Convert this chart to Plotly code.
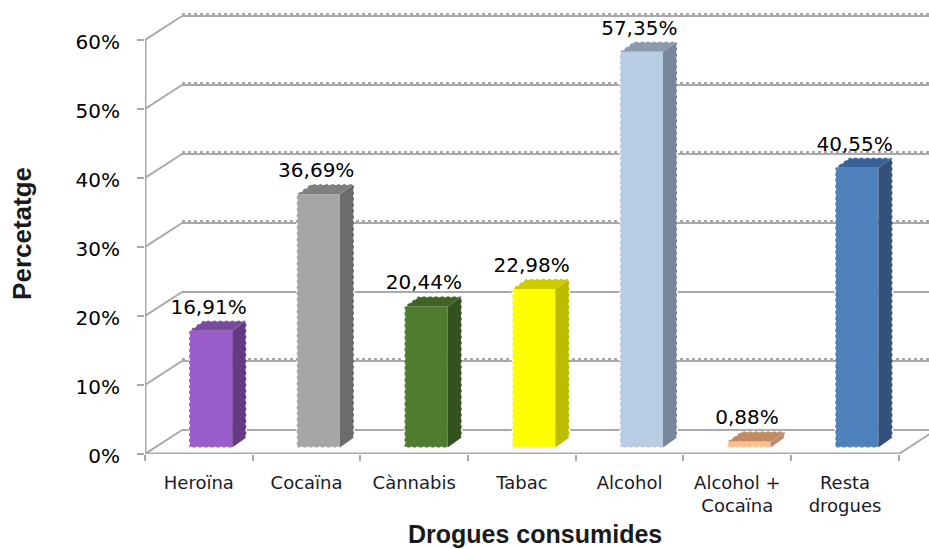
import plotly.graph_objects as go

categories = ['Heroïna', 'Cocaïna', 'Cànnabis', 'Tabac', 'Alcohol', 'Alcohol +<br>Cocaïna', 'Resta<br>drogues']
values = [16.91, 36.69, 20.44, 22.98, 57.35, 0.88, 40.55]
value_labels = ['16,91%', '36,69%', '20,44%', '22,98%', '57,35%', '0,88%', '40,55%']
front_colors = ['#9B5DC9', '#A6A6A6', '#4F7C2D', '#FFFF00', '#B8CCE4', '#FAC090', '#4F81BD']
side_colors = ['#643A85', '#6C6C6C', '#34521E', '#BDBD00', '#77879A', '#BC8F6C', '#33517A']
top_colors = ['#7A4A9E', '#808080', '#3F6324', '#CCCC00', '#8C9AAD', '#C08A62', '#3A6296']
y_ticks = [0, 10, 20, 30, 40, 50, 60]
y_tick_labels = ['0%', '10%', '20%', '30%', '40%', '50%', '60%']
dotted_ticks = [10, 30, 40, 50, 60]  # these back wall lines have the dotted top edge

# fake 3D, all in axis units (one category is ~107.7px, 1% is 6.9px)
WALL_DX, WALL_DY = 0.3435, 3.48
BAR_DX, BAR_DY = 0.13, 1.45
BAR_SHIFT, BAR_BASE = 0.11, 0.94
BAR_WIDTH = 0.4
X_MAX = 7.28
GRID = '#A9A9A9'

fig = go.Figure()

# FRONT FACES
fig.add_trace(go.Bar(x=[i + 0.5 + BAR_SHIFT for i in range(len(values))],
                     y=values,
                     base=[BAR_BASE] * len(values),
                     width=BAR_WIDTH,
                     marker={'color': front_colors, 'line': {'width': 0}},
                     hoverinfo='skip'))

# SIDE AND TOP FACES
for i, value in enumerate(values):
    left = i + 0.5 + BAR_SHIFT - BAR_WIDTH / 2
    right = left + BAR_WIDTH
    bottom = BAR_BASE
    top = BAR_BASE + value
    fig.add_trace(go.Scatter(x=[right, right + BAR_DX, right + BAR_DX, right, right],
                             y=[bottom, bottom + BAR_DY, top + BAR_DY, top, bottom],
                             mode='lines', fill='toself', fillcolor=side_colors[i],
                             line={'width': 0}, hoverinfo='skip'))
    fig.add_trace(go.Scatter(x=[left, right, right + BAR_DX, left + BAR_DX, left],
                             y=[top, top, top + BAR_DY, top + BAR_DY, top],
                             mode='lines', fill='toself', fillcolor=top_colors[i],
                             line={'width': 0}, hoverinfo='skip'))
    # white dotted rim of the silhouette
    fig.add_trace(go.Scatter(x=[right + BAR_DX, right + BAR_DX, left + BAR_DX, left, left, right],
                             y=[bottom + BAR_DY, top + BAR_DY, top + BAR_DY, top, bottom, bottom],
                             mode='lines', line={'width': 1.5, 'color': 'white', 'dash': 'dot'},
                             hoverinfo='skip'))

# VALUE LABELS
fig.add_trace(go.Scatter(x=[i + 0.5 + 0.09 for i in range(len(values))],
                         y=[v + BAR_BASE + BAR_DY + 0.3 for v in values],
                         mode='text', text=value_labels, textposition='top center',
                         textfont={'family': 'DejaVu Sans', 'size': 20, 'color': 'black'},
                         cliponaxis=False, hoverinfo='skip'))

# LEFT WALL EDGE AND FRONT FLOOR EDGE, these sit on the plot border so no clipping
fig.add_trace(go.Scatter(x=[0, 0, 7], y=[60, 0, 0], mode='lines',
                         line={'color': GRID, 'width': 3},
                         cliponaxis=False, hoverinfo='skip'))


def add_line(x0, y0, x1, y1, dash='solid', width=2):
    fig.add_shape(type='line', x0=x0, y0=y0, x1=x1, y1=y1, layer='below',
                  line={'color': GRID, 'width': width, 'dash': dash})


# BACK WALL
add_line(7, 0, 7 + WALL_DX, WALL_DY)
for tick in y_ticks:
    add_line(0, tick, WALL_DX, tick + WALL_DY)
    add_line(WALL_DX, tick + WALL_DY, X_MAX, tick + WALL_DY)
    if tick in dotted_ticks:
        add_line(WALL_DX, tick + WALL_DY + 0.28, X_MAX, tick + WALL_DY + 0.28, dash='dot')

fig.update_layout(
    width=929, height=549,
    margin={'l': 145, 'r': 0, 't': 0, 'b': 95},
    paper_bgcolor='white', plot_bgcolor='white',
    showlegend=False,
    xaxis={'range': [0, X_MAX], 'showgrid': False, 'zeroline': False, 'showline': False,
           'tickmode': 'array',
           'tickvals': [i + 0.5 for i in range(len(categories))],
           'ticktext': categories,
           'ticks': '', 'ticklabelstandoff': 16,
           'tickfont': {'family': 'DejaVu Sans', 'size': 18, 'color': '#1A1A2A'},
           'minor': {'tickmode': 'array', 'tickvals': list(range(8)), 'ticks': 'outside',
                     'ticklen': 6, 'tickwidth': 2, 'tickcolor': GRID, 'showgrid': False}},
    yaxis={'range': [0, 65.8], 'showgrid': False, 'zeroline': False, 'showline': False,
           'tickmode': 'array', 'tickvals': y_ticks, 'ticktext': y_tick_labels,
           'ticks': 'outside', 'ticklen': 7, 'tickwidth': 2, 'tickcolor': GRID,
           'ticklabelstandoff': 13, 'ticklabelshift': 2,
           'tickfont': {'family': 'DejaVu Sans', 'size': 20, 'color': 'black'}},
    annotations=[{'text': '<b>Percetatge</b>', 'xref': 'paper', 'yref': 'paper',
                  'x': -0.157, 'y': 0.4868, 'xanchor': 'center', 'yanchor': 'middle',
                  'textangle': -90, 'showarrow': False,
                  'font': {'family': 'Liberation Sans', 'size': 26, 'color': '#1A1A1A'}},
                 {'text': '<b>Drogues consumides</b>', 'xref': 'paper', 'yref': 'paper',
                  'x': 0.4974, 'y': -0.176, 'xanchor': 'center', 'yanchor': 'middle',
                  'showarrow': False,
                  'font': {'family': 'Liberation Sans', 'size': 25, 'color': '#1A1A1A'}}],
)

# the browser's default 8px body margin would push the figure off the window
fig.write_html("out.html", config={'displayModeBar': False},
               post_script="document.body.style.margin = '0';")
